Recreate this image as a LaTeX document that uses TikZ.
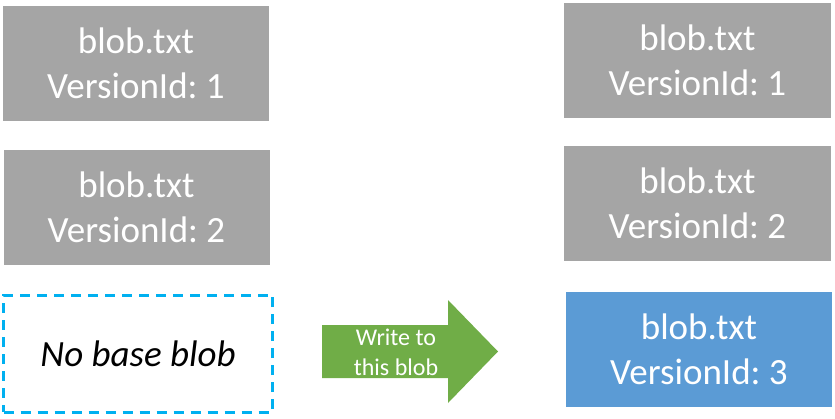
\documentclass[tikz,border=0pt]{standalone}
\usepackage{fontspec}
\setmainfont{Carlito}
\frenchspacing
\definecolor{boxgray}{HTML}{A5A5A5}
\definecolor{boxblue}{HTML}{5B9BD5}
\definecolor{arrowgreen}{HTML}{70AD47}
\definecolor{dashblue}{HTML}{00B0F0}
\begin{document}
\begin{tikzpicture}[x=1pt,y=-1pt,
  blobbox/.style={rectangle, inner sep=0pt, align=center, text=white,
    font=\fontsize{37}{45}\selectfont, minimum width=266, minimum height=115},
  graybox/.style={blobbox, fill=boxgray},
  bluebox/.style={blobbox, fill=boxblue},
  emptybox/.style={rectangle, inner sep=0pt, align=center, text=black,
    font=\fontsize{37}{45}\selectfont\itshape, draw=dashblue, line width=3pt,
    dash pattern=on 10pt off 7pt, minimum width=269, minimum height=117},
  arrowtext/.style={align=center, text=white, inner sep=0pt,
    font=\fontsize{24}{30}\selectfont}
]
\useasboundingbox (0,0) rectangle (835,418);
\node[graybox] (l1) at (136,63.5) {blob.txt\\VersionId: 1};
\node[graybox] (l2) at (136.5,207) {blob.txt\\VersionId: 2};
\node[emptybox] (l3) at (138,353.5) {No base blob};
\node[graybox, minimum width=267] (r1) at (697.5,60) {blob.txt\\VersionId: 1};
\node[graybox, minimum width=267] (r2) at (697.5,203.5) {blob.txt\\VersionId: 2};
\node[bluebox] (r3) at (699,349.5) {blob.txt\\VersionId: 3};
\fill[arrowgreen] (322,325) -- (448,325) -- (448,300) -- (498,351.5)
  -- (448,403) -- (448,378) -- (322,378) -- cycle;
\node[arrowtext] (wt) at (396,352) {Write to\\this blob};
\end{tikzpicture}
\end{document}
